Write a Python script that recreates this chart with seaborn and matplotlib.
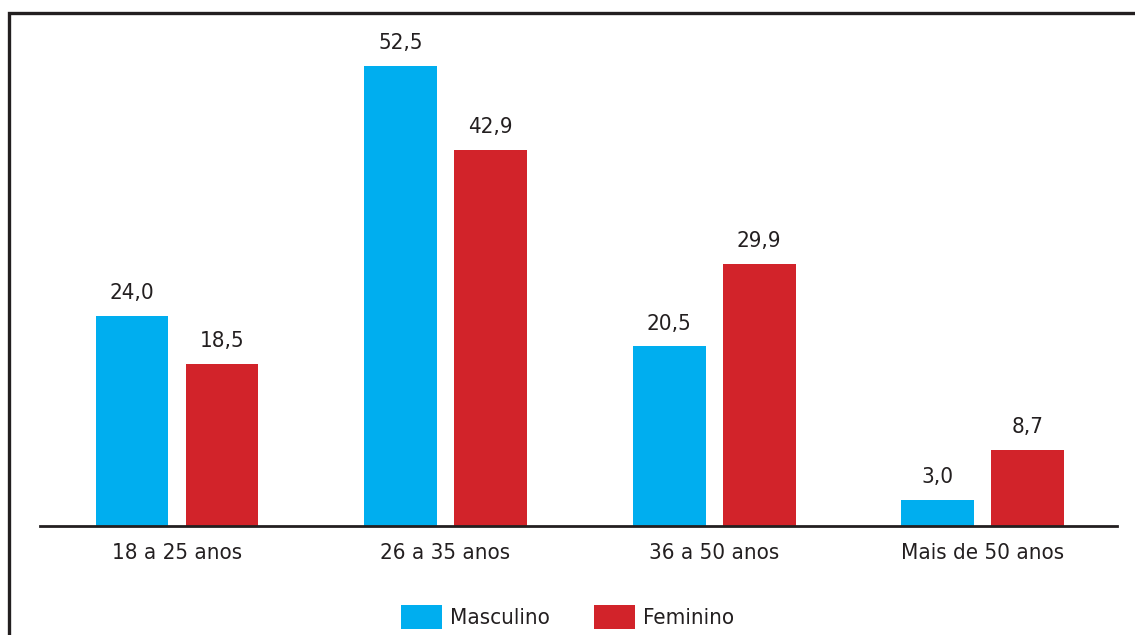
import matplotlib
matplotlib.use("Agg")
import matplotlib.pyplot as plt
import matplotlib.patches as mpatches
import seaborn as sns
import pandas as pd

faixas = ["18 a 25 anos", "26 a 35 anos", "36 a 50 anos", "Mais de 50 anos"]
masculino = [24.0, 52.5, 20.5, 3.0]
feminino = [18.5, 42.9, 29.9, 8.7]
sexos = ["Masculino", "Feminino"]
cores = ["#00AEEF", "#D2232A"]

df = pd.DataFrame({
    "faixa": faixas * 2,
    "valor": masculino + feminino,
    "sexo": [sexos[0]] * len(faixas) + [sexos[1]] * len(faixas),
})

sns.set_theme(style="white")
plt.rcParams["font.family"] = ["DejaVu Sans"]
plt.rcParams["font.stretch"] = "condensed"
texto = "#231F20"

W, H = 1135, 635
fig = plt.figure(figsize=(W / 100, H / 100), dpi=100)
fig.patch.set_facecolor("white")

# outer frame, open at right and bottom edges
frame = mpatches.Rectangle((9 / W, -0.1), 1.2, (H - 13) / H + 0.1,
                           transform=fig.transFigure, fill=False,
                           edgecolor=texto, linewidth=2.4, zorder=0)
fig.add_artist(frame)

ymax = 56
ax = fig.add_axes([40 / W, (H - 526) / H, (1117 - 40) / W, (ymax * 8.77) / H])
sns.barplot(data=df, x="faixa", y="valor", hue="sexo", order=faixas,
            hue_order=sexos, palette=cores, width=0.67, gap=0.19,
            saturation=1, linewidth=0, ax=ax, legend=False)

ax.set_xlim(-0.51, 3.5)
ax.set_ylim(0, ymax)
ax.set_xlabel("")
ax.set_ylabel("")
ax.set_yticks([])
ax.tick_params(axis="x", length=0, pad=12, labelsize=16, colors=texto)
for s in ["top", "left", "right"]:
    ax.spines[s].set_visible(False)
ax.spines["bottom"].set_color(texto)
ax.spines["bottom"].set_linewidth(2)
ax.patch.set_alpha(0)

for cont in ax.containers:
    labels = [f"{v:.1f}".replace(".", ",") for v in cont.datavalues]
    ax.bar_label(cont, labels=labels, padding=9, fontsize=16, color=texto)

handles = [mpatches.Patch(facecolor=c, edgecolor="none", label=l)
           for c, l in zip(cores, sexos)]
fig.legend(handles=handles, loc="center", bbox_to_anchor=(0.5, (H - 617) / H),
           ncol=2, frameon=False, fontsize=16, handlelength=1.85,
           handleheight=1.25, handletextpad=0.35, columnspacing=2.0,
           labelcolor=texto)

fig.savefig("out.png", dpi=100, facecolor="white")
